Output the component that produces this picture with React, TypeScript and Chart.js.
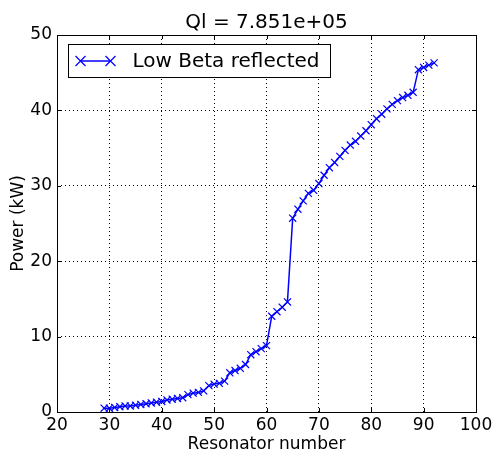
import React, { useEffect, useRef } from "react";
import { Chart, registerables } from "chart.js";

Chart.register(...registerables);

const resonators: number[] = [
  29, 30, 31, 32, 33, 34, 35, 36, 37, 38, 39, 40, 41, 42, 43, 44, 45, 46, 47, 48,
  49, 50, 51, 52, 53, 54, 55, 56, 57, 58, 59, 60, 61, 62, 63, 64, 65, 66, 67, 68,
  69, 70, 71, 72, 73, 74, 75, 76, 77, 78, 79, 80, 81, 82, 83, 84, 85, 86, 87, 88,
  89, 90, 91, 92,
];
const powerKW: number[] = [
  0.5, 0.5, 0.6, 0.7, 0.8, 0.8, 0.9, 1.0, 1.1, 1.2, 1.3, 1.4, 1.6, 1.7, 1.8, 1.9, 2.3, 2.5, 2.6, 2.8,
  3.5, 3.7, 3.8, 4.1, 5.2, 5.5, 5.8, 6.3, 7.6, 8.0, 8.4, 8.8, 12.7, 13.3, 13.9, 14.6, 25.7, 26.9, 28.0, 29.0,
  29.4, 30.3, 31.4, 32.4, 33.1, 33.9, 34.7, 35.4, 35.9, 36.6, 37.3, 38.1, 38.9, 39.5, 40.2, 40.8, 41.3, 41.7, 42.0, 42.4,
  45.4, 45.7, 46.0, 46.3,
];
const xTicks: number[] = [20, 30, 40, 50, 60, 70, 80, 90, 100];
const yTicks: number[] = [0, 10, 20, 30, 40, 50];
const titleText = "Ql = 7.851e+05";
const seriesLabel = "Low Beta reflected";
const xLabel = "Resonator number";
const yLabel = "Power (kW)";

const FONT = "'DejaVu Sans', sans-serif";
const BLUE = "#0000ff";

const framePlugin = {
  id: "framePlugin",
  afterDraw(chart: any) {
    const { ctx, chartArea: a, scales } = chart;
    ctx.save();
    ctx.strokeStyle = "#000";
    ctx.lineWidth = 1;
    ctx.setLineDash([]);
    const L = 4;
    ctx.beginPath();
    xTicks.forEach((v) => {
      const px = Math.round(scales.x.getPixelForValue(v)) + 0.5;
      ctx.moveTo(px, a.bottom);
      ctx.lineTo(px, a.bottom - L);
      ctx.moveTo(px, a.top);
      ctx.lineTo(px, a.top + L);
    });
    yTicks.forEach((v) => {
      const py = Math.round(scales.y.getPixelForValue(v)) + 0.5;
      ctx.moveTo(a.left, py);
      ctx.lineTo(a.left + L, py);
      ctx.moveTo(a.right, py);
      ctx.lineTo(a.right - L, py);
    });
    ctx.stroke();
    ctx.strokeRect(Math.round(a.left) + 0.5, Math.round(a.top) + 0.5, Math.round(a.right - a.left), Math.round(a.bottom - a.top));

    // title
    ctx.fillStyle = "#000";
    ctx.font = `20px ${FONT}`;
    ctx.textAlign = "center";
    ctx.textBaseline = "alphabetic";
    ctx.fillText(titleText, (a.left + a.right) / 2, a.top - 7);

    // legend
    const bx = a.left + 11.5;
    const by = a.top + 9.5;
    const bw = 262;
    const bh = 33;
    ctx.fillStyle = "#fff";
    ctx.fillRect(bx, by, bw, bh);
    ctx.strokeStyle = "#000";
    ctx.lineWidth = 1;
    ctx.strokeRect(bx, by, bw, bh);
    const ly = by + bh / 2;
    ctx.strokeStyle = BLUE;
    ctx.lineWidth = 1.5;
    ctx.beginPath();
    ctx.moveTo(bx + 12, ly);
    ctx.lineTo(bx + 42, ly);
    ctx.stroke();
    const drawX = (cx: number, cy: number) => {
      const r = 5;
      ctx.lineWidth = 1.2;
      ctx.beginPath();
      ctx.moveTo(cx - r, cy - r);
      ctx.lineTo(cx + r, cy + r);
      ctx.moveTo(cx - r, cy + r);
      ctx.lineTo(cx + r, cy - r);
      ctx.stroke();
    };
    drawX(bx + 12, ly);
    drawX(bx + 42, ly);
    ctx.fillStyle = "#000";
    ctx.font = `20px ${FONT}`;
    ctx.textAlign = "left";
    ctx.textBaseline = "middle";
    ctx.fillText(seriesLabel, bx + 64, ly + 1);
    ctx.restore();
  },
};

export default function App() {
  const ref = useRef<HTMLCanvasElement | null>(null);
  useEffect(() => {
    if (!ref.current) return;
    const chart = new Chart(ref.current, {
      type: "line",
      data: {
        datasets: [
          {
            label: seriesLabel,
            data: resonators.map((x, i) => ({ x, y: powerKW[i] })),
            borderColor: BLUE,
            backgroundColor: BLUE,
            borderWidth: 1.5,
            pointStyle: "crossRot",
            pointRadius: 5,
            pointBorderWidth: 1.2,
            pointBorderColor: BLUE,
            tension: 0,
            fill: false,
          },
        ],
      },
      options: {
        animation: false,
        responsive: false,
        maintainAspectRatio: false,
        layout: { padding: { top: 35, right: 20, left: 8, bottom: 0 } },
        plugins: { legend: { display: false }, title: { display: false }, tooltip: { enabled: false } },
        scales: {
          x: {
            type: "linear",
            min: 20,
            max: 100,
            afterFit: (s: any) => {
              s.height = 43;
            },
            afterBuildTicks: (s: any) => {
              s.ticks = xTicks.map((v) => ({ value: v }));
            },
            ticks: { color: "#000", font: { family: FONT, size: 17 }, padding: 3, maxRotation: 0, autoSkip: false },
            grid: { color: "#000", lineWidth: 1, drawTicks: false, tickLength: 0 },
            border: { display: false, dash: [1, 3] },
            title: { display: true, text: xLabel, color: "#000", font: { family: FONT, size: 17 }, padding: { top: 0, bottom: 0 } },
          },
          y: {
            type: "linear",
            min: 0,
            max: 50,
            afterFit: (s: any) => {
              s.width = 49;
            },
            afterBuildTicks: (s: any) => {
              s.ticks = yTicks.map((v) => ({ value: v }));
            },
            ticks: { color: "#000", font: { family: FONT, size: 17 }, padding: 5, autoSkip: false },
            grid: { color: "#000", lineWidth: 1, drawTicks: false, tickLength: 0 },
            border: { display: false, dash: [1, 3] },
            title: { display: true, text: yLabel, color: "#000", font: { family: FONT, size: 17 }, padding: { top: 0, bottom: 0 } },
          },
        },
      },
      plugins: [framePlugin],
    });
    return () => chart.destroy();
  }, []);
  return (
    <div style={{ position: "fixed", left: 0, top: 0, width: 496, height: 455, background: "#fff" }}>
      <canvas ref={ref} width={496} height={455} style={{ display: "block", width: 496, height: 455 }} />
    </div>
  );
}
